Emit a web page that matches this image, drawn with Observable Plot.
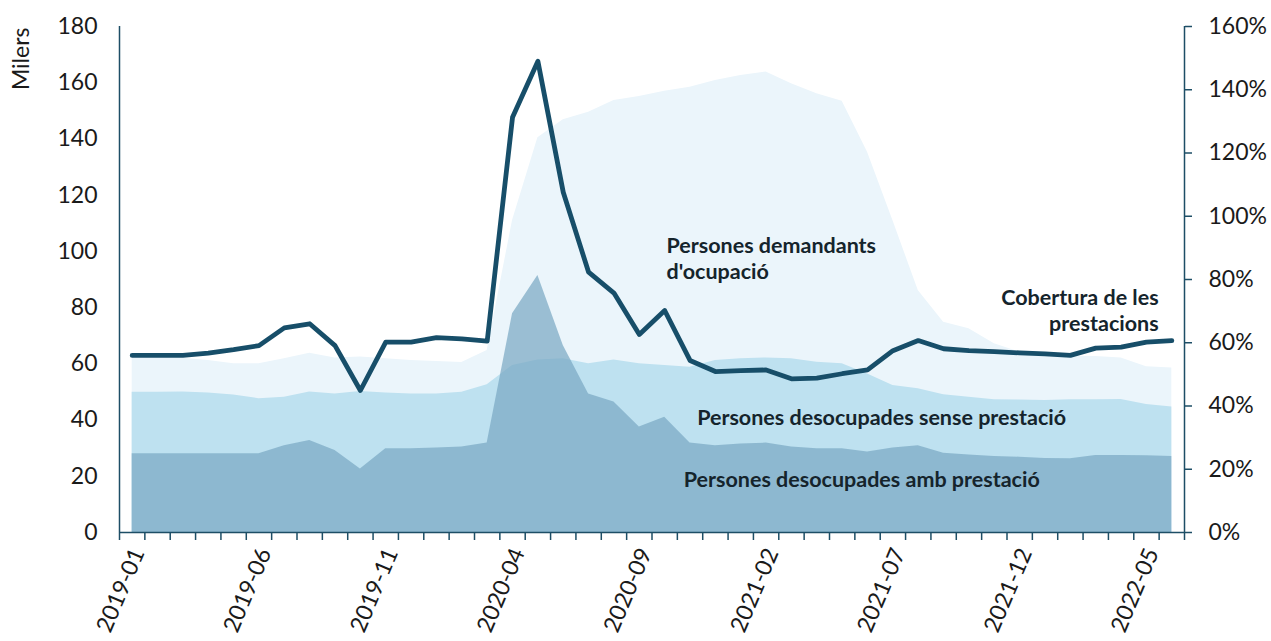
<!DOCTYPE html>
<html><head><meta charset="utf-8">
<script src="https://cdn.jsdelivr.net/npm/d3@7"></script>
<script src="https://cdn.jsdelivr.net/npm/@observablehq/plot@0.6"></script>
<style>
body{margin:0;background:#fff;}
#chart{width:1271px;height:641px;}
</style>
</head><body><div id="chart"></div>
<script>
const months = ["2019-01","2019-02","2019-03","2019-04","2019-05","2019-06","2019-07","2019-08","2019-09","2019-10","2019-11","2019-12",
"2020-01","2020-02","2020-03","2020-04","2020-05","2020-06","2020-07","2020-08","2020-09","2020-10","2020-11","2020-12",
"2021-01","2021-02","2021-03","2021-04","2021-05","2021-06","2021-07","2021-08","2021-09","2021-10","2021-11","2021-12",
"2022-01","2022-02","2022-03","2022-04","2022-05","2022-06"];
// Milers
const demandants = [62.1,62.1,62.0,61.2,60.0,60.0,61.8,63.8,62.1,62.4,61.8,61.2,60.8,60.5,64.7,111.0,140.4,146.8,149.5,153.7,155.1,157.0,158.4,160.8,162.6,163.8,159.6,156.1,153.4,135.3,111.0,86.1,74.8,72.5,67.1,64.2,63.0,62.6,62.6,62.1,59.0,58.5];
const desocupades = [49.9,49.9,50.0,49.6,48.9,47.6,48.1,50.0,49.3,50.2,49.6,49.3,49.3,49.9,52.6,59.4,61.4,61.8,60.0,61.4,60.0,59.4,58.8,61.2,61.8,62.1,61.8,60.6,60.0,56.4,52.3,51.1,49.0,48.1,47.2,47.1,47.0,47.2,47.2,47.3,45.5,44.6];
const ambPrestacio = [28.0,28.0,28.0,28.0,28.0,28.0,30.9,32.7,29.2,22.6,29.8,29.8,30.1,30.4,31.8,77.8,91.4,66.5,49.3,46.4,37.5,41.0,31.8,30.9,31.5,31.8,30.4,29.8,29.8,28.6,30.1,30.9,28.2,27.6,27.0,26.8,26.3,26.2,27.4,27.4,27.3,27.0];
// %
const cobertura = [56.0,56.0,56.0,56.7,57.8,59.1,64.7,66.0,59.1,44.9,60.2,60.2,61.6,61.2,60.5,131.3,149.0,107.6,82.3,75.7,62.6,70.2,54.4,50.9,51.2,51.4,48.6,48.8,50.2,51.4,57.5,60.7,58.1,57.5,57.2,56.8,56.5,56.0,58.3,58.6,60.2,60.7];
const leftTicks = [0,20,40,60,80,100,120,140,160,180];
const rightTicks = [0,20,40,60,80,100,120,140,160];
const labelMonths = ["2019-01","2019-06","2019-11","2020-04","2020-09","2021-02","2021-07","2021-12","2022-05"];

const k = 180/160;
const rows = months.map((m,i)=>({i, m, dem: demandants[i], sense: desocupades[i], amb: ambPrestacio[i], cob: cobertura[i]*k}));
const axisColor = "#1d4e66";
const textColor = "#15242c";
const n = months.length;

const labels = [
  {x: 21.07, y: 106.0, text: "Persones demandants\nd'ocupació", anchor: "start"},
  {x: 40.48, y: 87.3, text: "Cobertura de les\nprestacions", anchor: "end"},
  {x: 22.28, y: 44.8, text: "Persones desocupades sense prestació", anchor: "start"},
  {x: 21.75, y: 22.6, text: "Persones desocupades amb prestació", anchor: "start"}
];

const chart = Plot.plot({
  width: 1271, height: 641,
  marginLeft: 119, marginRight: 87, marginTop: 26, marginBottom: 109,
  style: {fontFamily: "Lato, 'Open Sans', sans-serif", fontSize: "23px", color: "#1a1a1a", background: "white", overflow: "visible"},
  x: {type: "linear", domain: [-0.5, n - 0.5]},
  y: {domain: [0, 180]},
  marks: [
    Plot.areaY(rows, {x: "i", y: "dem", fill: "#ebf5fb"}),
    Plot.areaY(rows, {x: "i", y: "sense", fill: "#bee1f0"}),
    Plot.areaY(rows, {x: "i", y: "amb", fill: "#77a7c2", fillOpacity: 0.7}),
    Plot.lineY(rows, {x: "i", y: "cob", stroke: "#174e69", strokeWidth: 4.8}),
    Plot.ruleX([-0.5, n - 0.5], {stroke: axisColor, strokeWidth: 1.5}),
    Plot.ruleY([0], {stroke: axisColor, strokeWidth: 1.5}),
    Plot.axisY(leftTicks, {anchor: "left", tickSize: 0, tickPadding: 22, label: null, fill: "#1a1a1a", fontSize: 23}),
    Plot.axisY(rightTicks.map(v => v*k), {anchor: "right", tickSize: 7, tickPadding: 17, stroke: axisColor, strokeWidth: 1.5,
      tickFormat: d => Math.round(d/k) + "%", label: null, fill: "#1a1a1a", fontSize: 23}),
    Plot.axisX(d3.range(-0.5, n, 1), {anchor: "bottom", tickSize: 8, stroke: axisColor, strokeWidth: 1.5, tickFormat: () => "", label: null}),
    Plot.axisX(labelMonths.map(m => months.indexOf(m)), {anchor: "bottom", tickSize: 0, tickPadding: 17, tickRotate: -67, dx: 6,
      tickFormat: i => months[i], label: null, fill: "#1a1a1a", fontSize: 23}),
    Plot.text(labels.filter(d => d.anchor === "start"), {x: "x", y: "y", text: "text", textAnchor: "start", lineAnchor: "top",
      fontWeight: "bold", fontSize: 21.5, fill: textColor, lineHeight: 1.2}),
    Plot.text(labels.filter(d => d.anchor === "end"), {x: "x", y: "y", text: "text", textAnchor: "end", lineAnchor: "top",
      fontWeight: "bold", fontSize: 21.5, fill: textColor, lineHeight: 1.2}),
    Plot.text([{x: -4.35, y: 168.5, t: "Milers"}], {x: "x", y: "y", text: "t", rotate: -90, fontSize: 23, fill: "#1a1a1a"})
  ]
});
document.getElementById("chart").appendChild(chart);
</script>
</body></html>
